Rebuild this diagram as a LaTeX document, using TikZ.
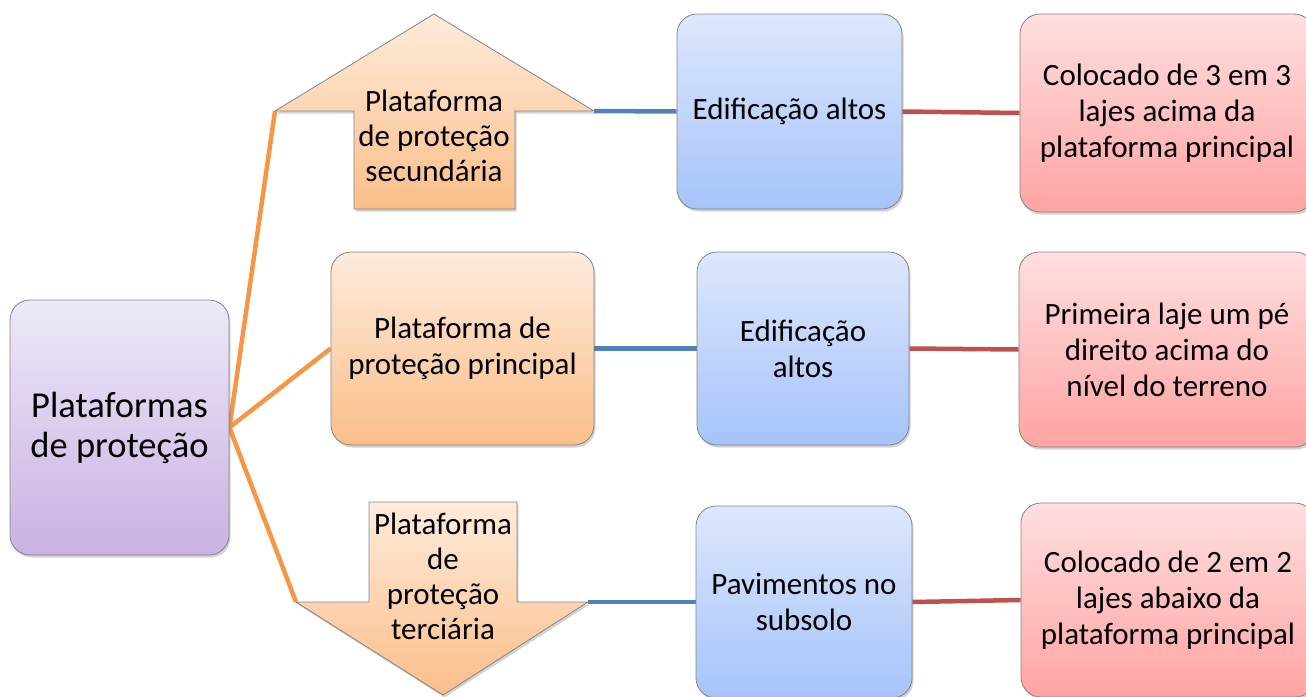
\documentclass[tikz,border=0pt]{standalone}
\usepackage{fontspec}
\setmainfont{Carlito}
\usetikzlibrary{shadows,backgrounds}
\definecolor{lnOrange}{HTML}{F79646}
\definecolor{lnBlue}{HTML}{4F81BD}
\definecolor{lnRed}{HTML}{C0504D}
\definecolor{bord}{HTML}{858585}
\definecolor{purTop}{HTML}{EEE8F8}
\definecolor{purBot}{HTML}{C8B2E2}
\definecolor{orTop}{HTML}{FDEBDC}
\definecolor{orBot}{HTML}{FBBE88}
\definecolor{blTop}{HTML}{DDE7FC}
\definecolor{blBot}{HTML}{A6C3FA}
\definecolor{rdTop}{HTML}{FFDFDF}
\definecolor{rdBot}{HTML}{FFA3A3}
\begin{document}
\begin{tikzpicture}[x=1pt,y=-1pt,
  shade/.style={drop shadow={shadow xshift=1.5pt,shadow yshift=-2.5pt,opacity=0.25,fill=black!70}},
  box/.style={rounded corners=20pt,draw=bord,line width=0.8pt,align=center,inner sep=0pt,
    font=\fontsize{31}{36}\selectfont,shade},
  purplebox/.style={box,top color=purTop,bottom color=purBot,font=\fontsize{36.5}{40}\selectfont},
  orangebox/.style={box,top color=orTop,bottom color=orBot},
  bluebox/.style={box,top color=blTop,bottom color=blBot},
  redbox/.style={box,top color=rdTop,bottom color=rdBot},
  arrowshape/.style={draw=bord,line width=0.8pt,top color=orTop,bottom color=orBot,shade},
  arrowtext/.style={align=center,inner sep=0pt,font=\fontsize{31}{35}\selectfont},
  conn/.style={line width=4.5pt},
  orangeline/.style={conn,draw=lnOrange},
  blueline/.style={conn,draw=lnBlue},
  redline/.style={conn,draw=lnRed}]
\useasboundingbox (0,0) rectangle (1306,696);

% root
\node[purplebox,minimum width=219pt,minimum height=255pt] (root) at (119.5,427.5) {Plataformas\\de proteção};

% up arrow (secondary)
\path[arrowshape] (434,14) -- (594,111) -- (515,111) -- (515,209) -- (354,209) -- (354,111) -- (275,111) -- cycle;
\coordinate (upL) at (275,111);
\coordinate (upR) at (594,111);
\node[arrowtext] (sec) at (434,136) {Plataforma\\de proteção\\secundária};

% middle box (principal)
\node[orangebox,minimum width=263pt,minimum height=193pt] (prin) at (462.5,348.5) {Plataforma de\\proteção principal};

% down arrow (tertiary)
\path[arrowshape] (369,502) -- (517,502) -- (517,602) -- (588,602) -- (443,695) -- (296,602) -- (369,602) -- cycle;
\coordinate (dnL) at (296,602);
\coordinate (dnR) at (588,602);
\node[arrowtext] (ter) at (443,576) {Plataforma\\de\\proteção\\terciária};

% blue boxes
\node[bluebox,minimum width=225pt,minimum height=195pt] (b1) at (789.5,111.5) {Edificação altos};
\node[bluebox,minimum width=212pt,minimum height=193pt] (b2) at (803,348.5) {Edificação\\altos};
\node[bluebox,minimum width=216pt,minimum height=192pt] (b3) at (804,602) {Pavimentos no\\subsolo};

% red boxes
\node[redbox,minimum width=294pt,minimum height=198pt] (r1) at (1167,113) {Colocado de 3 em 3\\lajes acima da\\plataforma principal};
\node[redbox,minimum width=296pt,minimum height=195pt] (r2) at (1167,349.5) {Primeira laje um pé\\direito acima do\\nível do terreno};
\node[redbox,minimum width=294pt,minimum height=194pt] (r3) at (1168,600) {Colocado de 2 em 2\\lajes abaixo da\\plataforma principal};

\begin{scope}[on background layer]
\draw[orangeline] (root.east) -- (upL);
\draw[orangeline] (root.east) -- (prin.west);
\draw[orangeline] (root.east) -- (dnL);
\draw[blueline] (upR) -- (b1.west);
\draw[blueline] (prin.east) -- (b2.west);
\draw[blueline] (dnR) -- (b3.west);
\draw[redline] (b1.east) -- (r1.west);
\draw[redline] (b2.east) -- (r2.west);
\draw[redline] (b3.east) -- (r3.west);
\end{scope}
\end{tikzpicture}
\end{document}
